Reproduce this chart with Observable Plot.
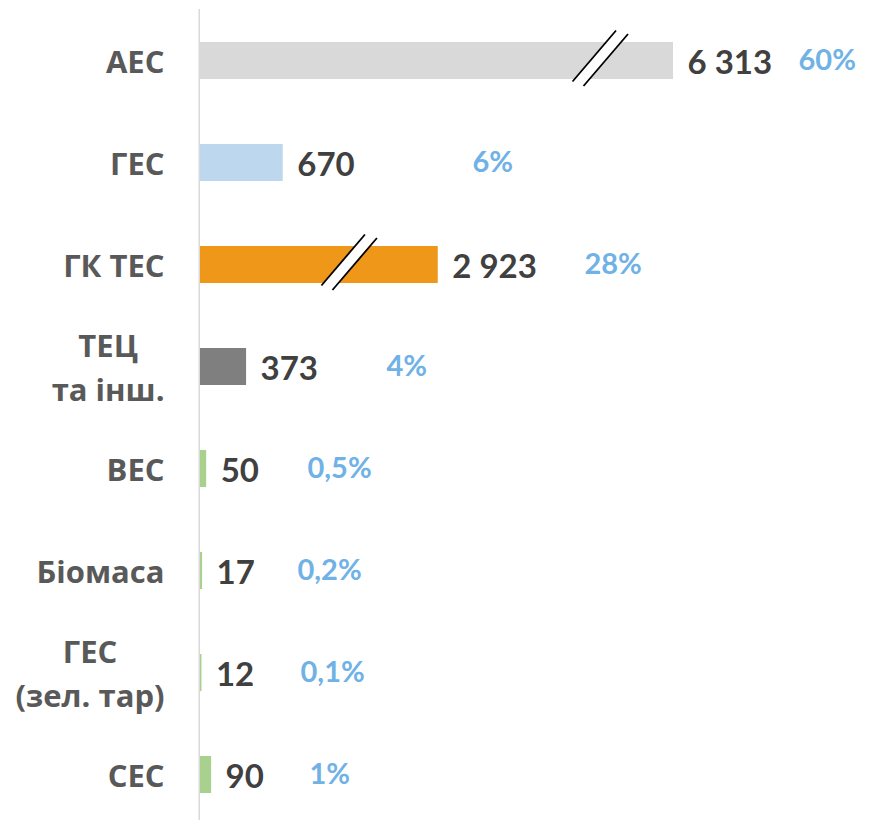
<!DOCTYPE html>
<html><head><meta charset="utf-8">
<script src="https://cdn.jsdelivr.net/npm/d3@7"></script>
<script src="https://cdn.jsdelivr.net/npm/@observablehq/plot@0.6"></script>
<style>body{margin:0;background:#fff} #chart{width:870px;height:820px;overflow:hidden}</style>
</head><body><div id="chart"></div>
<script>
// ---- data ----
const categories = ["АЕС", "ГЕС", "ГК ТЕС", "ТЕЦ\nта інш.", "ВЕС", "Біомаса", "ГЕС\n(зел. тар)", "СЕС"];
const values = [6313, 670, 2923, 373, 50, 17, 12, 90];
const valueLabels = ["6 313", "670", "2 923", "373", "50", "17", "12", "90"];
const shares = ["60%", "6%", "28%", "4%", "0,5%", "0,2%", "0,1%", "1%"];
const barColors = ["#D9D9D9", "#BDD7EE", "#EF9718", "#7F7F7F", "#A9D18E", "#A9D18E", "#A9D18E", "#A9D18E"];
// bars cut by an axis break: drawn length (value units) and where the break sits
const brokenShown = {"АЕС": 3830, "ГК ТЕС": 1925};
const breakAt = {"АЕС": 3239, "ГК ТЕС": 1206};
// where the share labels sit (value units)
const shareAt = [4842, 2202, 3109, 1506, 866, 785, 810, 883];

// ---- build ----
const rows = categories.map((c, i) => ({
  cat: c, value: values[i], shown: brokenShown[c] ?? values[i],
  label: valueLabels[i], share: shares[i], shareX: shareAt[i], color: barColors[i]
}));

const FONT = "Lato";
const CAT_FONT = "'Open Sans'";
const catSize = 31;
const ctx = document.createElement("canvas").getContext("2d");
ctx.font = `bold ${catSize}px ${CAT_FONT}`;
const lineW = s => Math.max(...s.split("\n").map(l => ctx.measureText(l).width));

const LABEL_GAP = 36;
const catStyle = {frameAnchor: "left", y: "cat", text: "cat", fill: "#595959", dy: -2.5,
  fontSize: catSize, fontWeight: "bold", fontFamily: CAT_FONT, lineHeight: 1.42};

const singleRows = rows.filter(r => !r.cat.includes("\n"));
const multiRows = rows.filter(r => r.cat.includes("\n"));

const breakMark = (index, scales) => {
  const x = scales.x, y = scales.y;
  const bw = typeof y.bandwidth === "function" ? y.bandwidth() : (y.bandwidth || 0);
  const g = d3.create("svg:g");
  for (const cat of Object.keys(breakAt)) {
    const cx = x(breakAt[cat]);
    const cy = y(cat) + bw / 2;
    const l1 = [[cx - 27.5, cy + 21], [cx + 16, cy - 30]];
    const l2 = [[cx - 16.5, cy + 25.5], [cx + 28, cy - 26.5]];
    g.append("polygon")
      .attr("points", [l1[0], l1[1], l2[1], l2[0]].map(p => p.join(",")).join(" "))
      .attr("fill", "white");
    for (const l of [l1, l2]) {
      g.append("line")
        .attr("x1", l[0][0]).attr("y1", l[0][1]).attr("x2", l[1][0]).attr("y2", l[1][1])
        .attr("stroke", "black").attr("stroke-width", 1.8);
    }
  }
  return g.node();
};

const chart = Plot.plot({
  width: 870, height: 820,
  marginLeft: 200, marginRight: 0, marginTop: 9, marginBottom: 0,
  x: {domain: [0, 5425], axis: null},
  y: {domain: categories, range: [9.5, 825.5], paddingInner: 0.637, paddingOuter: 0.3185, axis: null},
  color: {type: "identity"},
  style: {fontFamily: FONT, background: "white", overflow: "visible"},
  marks: [
    Plot.barX(rows, {x: "shown", y: "cat", fill: "color"}),
    breakMark,
    Plot.ruleX([0], {stroke: "#D9D9D9", strokeWidth: 1.5, dx: -1.25}),
    Plot.text(rows, {x: "shown", y: "cat", text: "label", textAnchor: "start", dx: 14, dy: 2,
      fill: "#404040", fontSize: 33, fontWeight: "bold"}),
    Plot.text(rows, {x: "shareX", y: "cat", text: "share", textAnchor: "start", dy: 0,
      fill: "#70B2E6", fontSize: 29, fontWeight: "bold"}),
    Plot.text(singleRows, {...catStyle, textAnchor: "end", dx: -LABEL_GAP}),
    ...multiRows.map(r => Plot.text([r], {...catStyle, textAnchor: "middle", dx: -LABEL_GAP - lineW(r.cat) / 2}))
  ]
});
document.getElementById("chart").append(chart);
</script>
</body></html>
